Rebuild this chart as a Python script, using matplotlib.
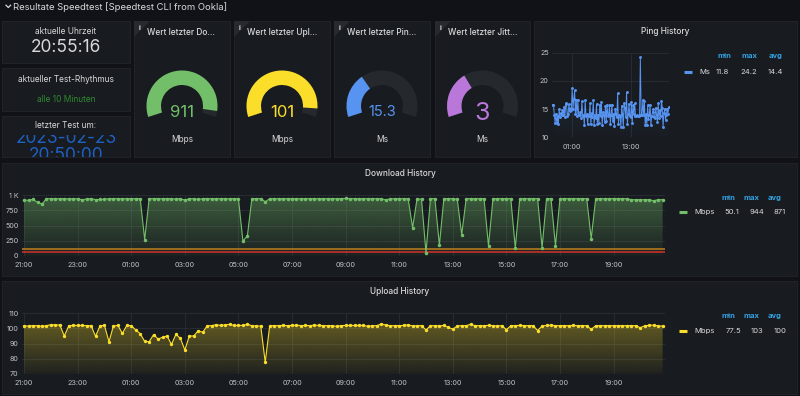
import numpy as np
import pandas as pd
import matplotlib.pyplot as plt
import matplotlib.dates as mdates
from matplotlib.patches import Rectangle, Wedge, Polygon
from matplotlib.colors import to_rgba

plt.rcParams['font.family'] = ['Inter', 'DejaVu Sans']

# ---------------- data ----------------
times = pd.date_range('2023-02-22 21:00', periods=144, freq='10min')
t_start = pd.Timestamp('2023-02-22 20:55:16')
t_end = pd.Timestamp('2023-02-23 20:55:16')

download = [
    918, 913, 929, 880, 852, 940,   # 21
    940, 938, 940, 940, 936, 940,   # 22
    938, 923, 935, 940, 925, 928,   # 23
    930, 940, 940, 940, 938, 940,   # 00
    940, 940, 940, 270, 940, 940,   # 01
    940, 938, 940, 940, 935, 940,   # 02
    915, 940, 938, 928, 940, 940,   # 03
    940, 940, 940, 940, 938, 940,   # 04
    940, 245, 330, 940, 940, 940,   # 05
    890, 940, 940, 940, 938, 940,   # 06
    940, 940, 938, 940, 940, 940,   # 07
    940, 938, 940, 940, 940, 940,   # 08
    944, 940, 940, 938, 940, 940,   # 09
    940, 940, 940, 918, 940, 938,   # 10
    940, 940, 940, 465, 940, 930,   # 11
    50.1, 940, 940, 175, 940, 940,  # 12
    940, 932, 350, 940, 940, 940,   # 13
    940, 940, 164, 940, 940, 940,   # 14
    940, 940, 131, 940, 940, 940,   # 15
    940, 940, 137, 940, 940, 164,   # 16
    940, 940, 940, 940, 940, 940,   # 17
    940, 284, 940, 940, 940, 940,   # 18
    940, 940, 940, 940, 923, 923,   # 19
    923, 923, 923, 907, 923, 923,   # 20
]

upload = [
    101.6, 101.6, 101.8, 101.8, 101.4, 101.8,   # 21
    102.5, 102.3, 102.3, 95.0, 101.8, 102.0,    # 22
    102.0, 102.0, 101.8, 101.8, 94.8, 101.8,    # 23
    102.0, 91.2, 101.6, 102.0, 96.7, 102.0,     # 00
    101.8, 99.0, 96.5, 91.4, 91.2, 95.9,        # 01
    93.0, 94.1, 95.0, 89.4, 96.1, 93.4,         # 02
    85.7, 95.0, 95.0, 98.5, 97.4, 101.8,        # 03
    101.8, 102.5, 102.0, 102.3, 102.7, 102.0,   # 04
    102.0, 102.0, 102.7, 101.8, 101.6, 101.6,   # 05
    77.5, 101.8, 101.8, 101.8, 102.0, 101.8,    # 06
    102.0, 102.2, 101.8, 102.0, 101.8, 102.2,   # 07
    102.0, 101.8, 101.8, 101.8, 101.4, 101.8,   # 08
    102.0, 102.0, 102.0, 102.0, 102.0, 101.4,   # 09
    101.8, 101.8, 103.0, 102.2, 101.8, 101.8,   # 10
    101.8, 102.0, 102.4, 101.6, 101.8, 101.8,   # 11
    99.0, 101.8, 101.8, 101.6, 102.0, 100.7,    # 12
    99.5, 101.6, 101.8, 101.8, 102.7, 101.8,    # 13
    101.8, 101.8, 102.0, 101.8, 101.6, 101.8,   # 14
    99.2, 101.8, 101.8, 102.0, 101.8, 101.8,    # 15
    101.8, 98.6, 101.6, 102.0, 102.2, 101.8,    # 16
    101.8, 101.8, 101.8, 102.0, 101.8, 101.8,   # 17
    101.8, 99.4, 101.8, 101.8, 101.8, 101.8,    # 18
    101.8, 101.8, 101.8, 101.8, 101.8, 101.8,   # 19
    100.5, 101.8, 102.0, 102.2, 101.6, 101.6,   # 20
]

ping = [
    15.8, 15.7, 14.0, 12.6, 14.2, 12.5,   # 21
    13.8, 12.3, 15.0, 13.6, 14.3, 13.9,   # 22
    14.8, 14.0, 15.4, 13.6, 15.9, 16.0,   # 23
    13.7, 14.1, 15.9, 14.6, 15.2, 14.9,   # 00
    18.7, 15.0, 16.8, 18.3, 14.2, 16.6,   # 01
    13.8, 16.7, 14.0, 13.9, 14.4, 13.5,   # 02
    16.4, 13.8, 14.0, 12.1, 16.6, 13.8,   # 03
    14.1, 12.4, 13.9, 13.7, 16.0, 12.3,   # 04
    14.3, 13.6, 16.6, 12.2, 14.0, 13.5,   # 05
    15.9, 12.4, 14.0, 12.6, 15.8, 13.8,   # 06
    16.2, 12.1, 14.5, 14.0, 12.8, 15.6,   # 07
    12.9, 15.8, 13.7, 14.1, 15.8, 12.4,   # 08
    14.0, 15.8, 12.9, 14.2, 12.0, 15.1,   # 09
    14.2, 13.6, 17.8, 12.4, 14.0, 13.8,   # 10
    11.9, 15.6, 14.1, 11.8, 16.0, 15.2,   # 11
    13.6, 18.0, 12.3, 14.1, 15.9, 13.8,   # 12
    13.6, 16.3, 12.5, 15.7, 14.2, 16.0,   # 13
    13.8, 13.7, 13.9, 13.8, 13.7, 14.0,   # 14
    24.2, 13.9, 14.0, 16.6, 13.9, 16.4,   # 15
    12.1, 14.1, 12.2, 15.7, 13.3, 14.0,   # 16
    15.8, 12.2, 13.8, 14.5, 15.0, 13.6,   # 17
    13.5, 15.2, 14.0, 12.8, 16.0, 13.4,   # 18
    14.8, 13.7, 16.5, 15.2, 11.9, 14.3,   # 19
    15.1, 13.0, 14.0, 15.0, 14.2, 15.3,   # 20
]

dl_thresholds = [110, 58]
dl_stats = ['50.1', '944', '871']
ul_stats = ['77.5', '103', '100']
ping_stats = ['11.8', '24.2', '14.4']

dl_yticks = [0, 250, 500, 750, 1000]
dl_ylabels = ['0', '250', '500', '750', '1 K']
ul_yticks = [70, 80, 90, 100, 110]
ping_yticks = [10, 15, 20, 25]

gauge_titles = ['Wert letzter Do…', 'Wert letzter Upl…', 'Wert letzter Pin…', 'Wert letzter Jitt…']
gauge_values = [911, 101, 15.3, 3]
gauge_text = ['911', '101', '15.3', '3']
gauge_max = [955, 108, 45, 8.4]
gauge_units = ['Mbps', 'Mbps', 'Ms', 'Ms']
gauge_colors = ['#73bf69', '#fade2a', '#5794f2', '#b877d9']
gauge_fontsize = [12, 12, 10.5, 18]

# ---------------- layout ----------------
W, H = 800, 396
BG = '#111217'
PANEL = '#181b1f'
TXT = '#d8d9da'
TICK = '#c0c3c8'
GRID = '#2b2e34'
BLUE_HDR = '#33a2e5'

fig = plt.figure(figsize=(8, 3.96), dpi=100)
fig.patch.set_facecolor(BG)


def rect(x0, y0, x1, y1):
    return [x0 / W, 1 - y1 / H, (x1 - x0) / W, (y1 - y0) / H]


canvas = fig.add_axes([0, 0, 1, 1], zorder=0)
canvas.set_xlim(0, W)
canvas.set_ylim(H, 0)
canvas.axis('off')

panels = [(2, 21, 130, 63), (2, 68, 130, 111), (2, 116, 130, 157),
          (134, 21, 230, 157), (234, 21, 330, 157), (334, 21, 430, 157), (435, 21, 530, 157),
          (534, 21, 797, 157), (2, 163, 797, 276), (2, 281, 797, 394)]
for x0, y0, x1, y1 in panels:
    canvas.add_patch(Rectangle((x0, y0), x1 - x0, y1 - y0, facecolor=PANEL,
                               edgecolor='#23252a', lw=0.6))

# row header
canvas.plot([6, 8.3, 10.6], [5.2, 7.5, 5.2], color=TXT, lw=0.9)
canvas.text(13, 7, 'Resultate Speedtest [Speedtest CLI from Ookla]', color=TXT,
            fontsize=6.8, va='center', ha='left')

# left stat panels
canvas.text(66, 32, 'aktuelle Uhrzeit', color=TXT, fontsize=6, ha='center', va='center')
canvas.text(66, 47.5, '20:55:16', color=TXT, fontsize=12.5, ha='center', va='center')
canvas.text(66, 79, 'aktueller Test-Rhythmus', color=TXT, fontsize=6, ha='center', va='center')
canvas.text(66, 100, 'alle 10 Minuten', color='#2f8a2f', fontsize=6, ha='center', va='center')
canvas.text(66, 126, 'letzter Test um:', color=TXT, fontsize=6, ha='center', va='center')

clip_ax = fig.add_axes(rect(2, 134.5, 130, 157), zorder=1)
clip_ax.set_xlim(2, 130)
clip_ax.set_ylim(157, 134.5)
clip_ax.axis('off')
clip_ax.text(66, 142.7, '2023-02-23', color='#1f60c4', fontsize=12.5, ha='center',
             va='baseline', clip_on=True)
clip_ax.text(66, 160.5, '20:50:00', color='#1f60c4', fontsize=12.5, ha='center',
             va='baseline', clip_on=True)

# gauges
start_a, span = 198, 216
R, thick = 35.5, 14.5
for i in range(4):
    px0 = panels[3 + i][0]
    cx = (panels[3 + i][0] + panels[3 + i][2]) / 2
    cy = 106
    canvas.add_patch(Polygon([(px0, 21), (px0 + 16, 21), (px0, 37)], closed=True,
                             facecolor='#26292e', edgecolor='none'))
    canvas.text(px0 + 5.5, 27.5, 'i', color=TXT, fontsize=5, ha='center', va='center',
                fontweight='bold')
    canvas.text(px0 + 13, 32.5, gauge_titles[i], color=TXT, fontsize=6, ha='left',
                va='center', fontweight='medium')
    canvas.add_patch(Wedge((cx, cy), R, -start_a, -start_a + span, width=thick,
                           facecolor='#25282d', edgecolor='none'))
    frac = min(gauge_values[i] / gauge_max[i], 1)
    canvas.add_patch(Wedge((cx, cy), R, -start_a, -start_a + span * frac, width=thick,
                           facecolor=gauge_colors[i], edgecolor='none'))
    canvas.text(cx, 111, gauge_text[i], color=gauge_colors[i], fontsize=gauge_fontsize[i],
                ha='center', va='center_baseline')
    canvas.text(cx, 139, gauge_units[i], color=TXT, fontsize=6, ha='center', va='center')

# panel titles
canvas.text(665, 32, 'Ping History', color=TXT, fontsize=6, ha='center', va='center',
            fontweight='medium')
canvas.text(400, 173.5, 'Download History', color=TXT, fontsize=6, ha='center',
            va='center', fontweight='medium')
canvas.text(400, 292, 'Upload History', color=TXT, fontsize=6, ha='center', va='center',
            fontweight='medium')


def legend(x_dash, y_hdr, y_val, color, unit, stats, hdr_x, val_x):
    canvas.plot([x_dash, x_dash + 8], [y_val, y_val], color=color, lw=2.2,
                solid_capstyle='butt')
    canvas.text(x_dash + 15, y_val, unit, color=TXT, fontsize=5.5, ha='left', va='center')
    for name, hx in zip(['min', 'max', 'avg'], hdr_x):
        canvas.text(hx, y_hdr, name, color=BLUE_HDR, fontsize=5.5, ha='center',
                    va='center', fontweight='bold')
    for s, vx in zip(stats, val_x):
        canvas.text(vx, y_val, s, color=TXT, fontsize=5.5, ha='center', va='center')


legend(684, 56, 71.5, '#5794f2', 'Ms', ping_stats, [724, 749, 776], [722.5, 748.5, 775])
legend(679, 198, 212, '#73bf69', 'Mbps', dl_stats, [728, 751.5, 775], [732, 756.5, 779.5])
legend(679, 316, 331, '#fade2a', 'Mbps', ul_stats, [728, 751.5, 775], [733, 757, 780])


# ---------------- time series ----------------
def style(ax, ymin, ymax, yticks, locator):
    ax.set_facecolor('none')
    for s in ax.spines.values():
        s.set_visible(False)
    ax.set_xlim(t_start, t_end)
    ax.set_ylim(ymin, ymax)
    ax.set_yticks(yticks)
    ax.xaxis.set_major_locator(locator)
    ax.xaxis.set_major_formatter(mdates.DateFormatter('%H:%M'))
    ax.tick_params(length=0, labelsize=5.2, labelcolor=TICK, pad=2.5)
    ax.tick_params(axis='x', pad=4.5)
    ax.grid(True, color=GRID, lw=0.6)
    ax.set_axisbelow(True)


def gradient_fill(ax, y, base, top, color, a_top, a_bot):
    coll = ax.fill_between(times, y, base, facecolor='none', edgecolor='none')
    tx = mdates.date2num(times)
    grad = np.zeros((80, 1, 4))
    grad[..., :3] = to_rgba(color)[:3]
    grad[:, 0, 3] = np.linspace(a_top, a_bot, 80)
    im = ax.imshow(grad, aspect='auto', origin='upper', extent=[tx[0], tx[-1], base, top],
                   zorder=1, interpolation='bilinear')
    im.set_clip_path(coll.get_paths()[0], transform=ax.transData)


# download
ax_dl = fig.add_axes(rect(22, 195, 665, 256), zorder=2)
gradient_fill(ax_dl, download, 0, 1000, '#73bf69', 0.42, 0.04)
ax_dl.plot(times, download, color='#73bf69', lw=0.8, marker='o', ms=1.5, zorder=3)
ax_dl.axhline(dl_thresholds[0], color='#a8721f', lw=1.3, zorder=2)
ax_dl.axhline(dl_thresholds[1], color='#c4302b', lw=1.2, zorder=2)
style(ax_dl, 0, 1000, dl_yticks, mdates.HourLocator(byhour=range(1, 24, 2)))
ax_dl.set_yticklabels(dl_ylabels)

# upload
ax_ul = fig.add_axes(rect(22, 313.3, 665, 373.7), zorder=2)
gradient_fill(ax_ul, upload, 70, 110, '#fade2a', 0.38, 0.04)
ax_ul.plot(times, upload, color='#fade2a', lw=0.8, marker='o', ms=1.4, zorder=3)
style(ax_ul, 70, 110, ul_yticks, mdates.HourLocator(byhour=range(1, 24, 2)))

# ping
ax_p = fig.add_axes(rect(552.3, 52.7, 669.2, 137.3), zorder=2)
gradient_fill(ax_p, ping, 10, 25, '#5794f2', 0.16, 0.02)
ax_p.plot(times, ping, color='#5794f2', lw=0.7, marker='o', ms=1.1, zorder=3)
style(ax_p, 10, 25, ping_yticks, mdates.HourLocator(byhour=[1, 13]))

fig.savefig('out.png', dpi=100, facecolor=BG)
